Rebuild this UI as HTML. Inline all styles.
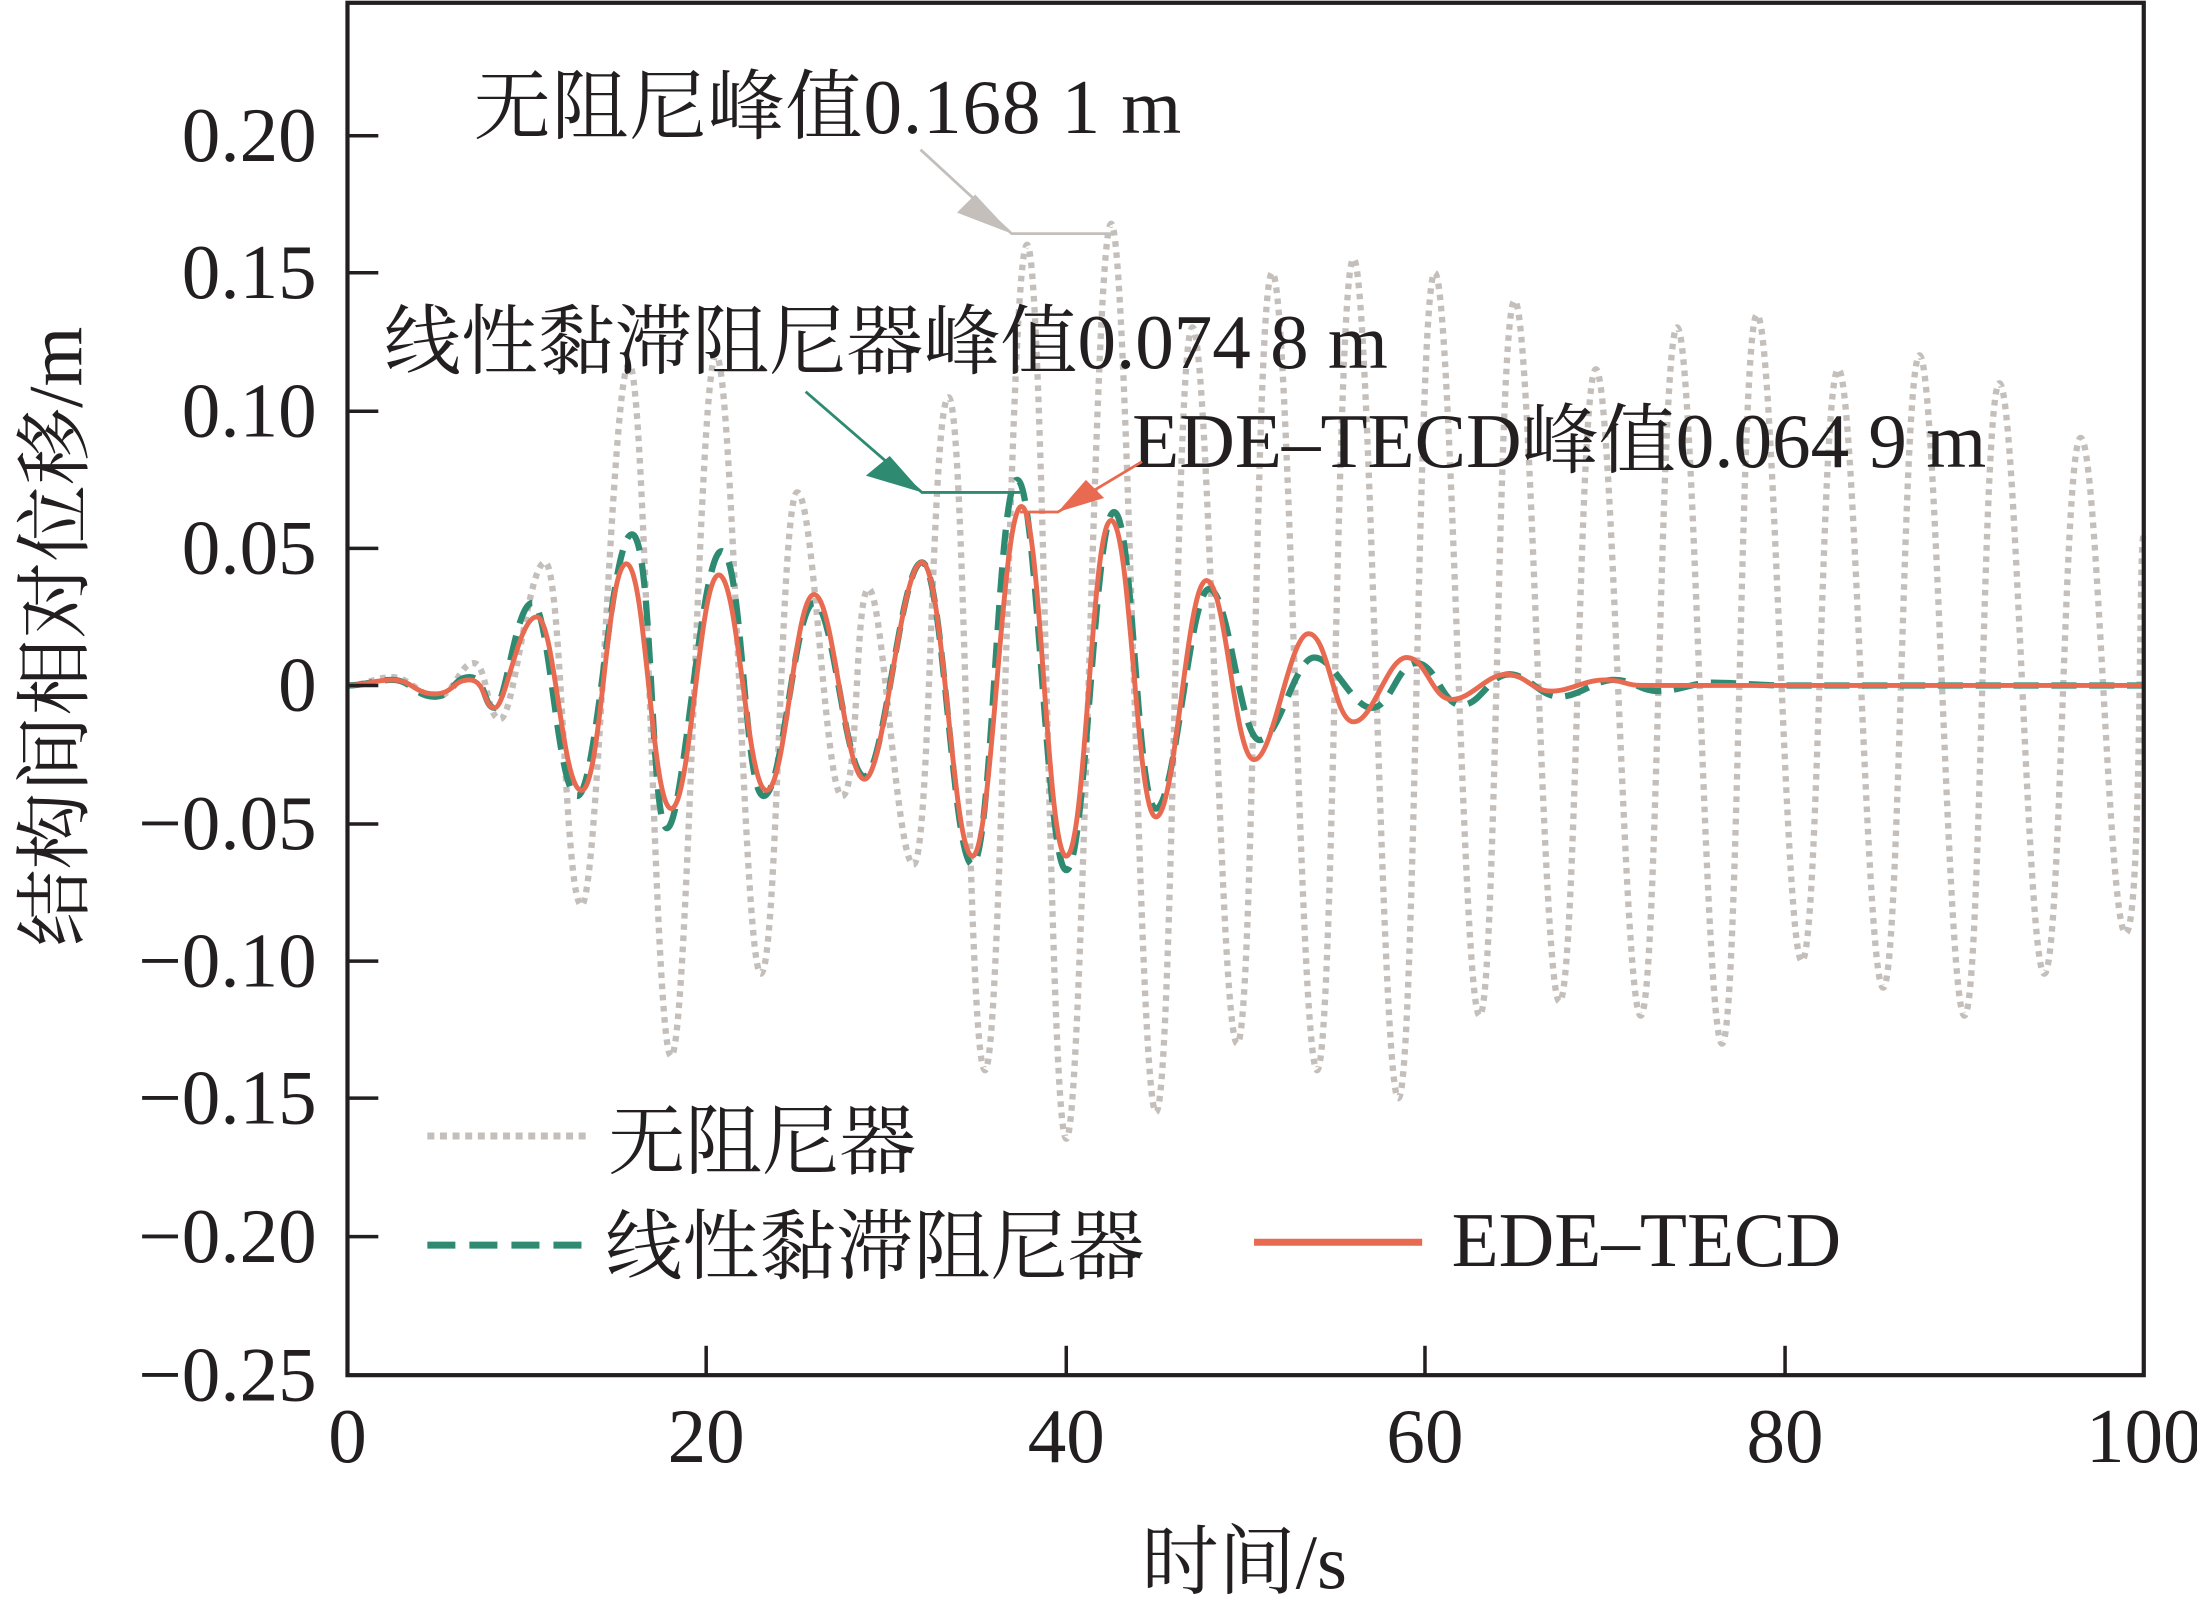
<!DOCTYPE html>
<html><head><meta charset="utf-8"><style>html,body{margin:0;padding:0;background:#fff}svg{display:block}text{font-family:"Liberation Serif","Noto Serif CJK SC",serif;fill:#231f20}</style></head>
<body>
<svg width="2197" height="1599" viewBox="0 0 1568 1143" preserveAspectRatio="none" xmlns="http://www.w3.org/2000/svg">
<rect x="0" y="0" width="1568" height="1143" fill="#fff"/>
<path fill="none" stroke="#c4bfbb" stroke-width="4.5" stroke-dasharray="4 4" d="M248,490 C260,490 268,484 280,484 S300,498 312,498 S328,474 338,474 S347,514 357,514 S377,402 389,402 S403,647 415,647 S437,260 449,260 S467,755 479,755 S499,254 511,254 S531,696 543,696 S557,352 569,352 S589,569 601,569 S610,421 620,421 S640,618 652,618 S665,284 677,284 S691,765 703,765 S721,175 733,175 S749,814 761,814 S781,160 793,160 S813,795 825,795 S839,234 851,234 S871,746 883,746 S896,195 908,195 S928,765 940,765 S954,185 966,185 S986,785 998,785 S1012,195 1024,195 S1044,726 1056,726 S1069,215 1081,215 S1101,716 1113,716 S1127,264 1139,264 S1159,726 1171,726 S1185,234 1197,234 S1217,746 1229,746 S1242,225 1254,225 S1274,687 1286,687 S1300,264 1312,264 S1332,706 1344,706 S1358,254 1370,254 S1390,726 1402,726 S1415,274 1427,274 S1447,696 1459,696 S1473,313 1485,313 S1505,667 1517,667 S1526,382 1530,382"/>
<path fill="none" stroke="#2e8b72" stroke-width="4.5" stroke-dasharray="18 9" d="M248,490 C262,490 266,486 280,486 S296,498 310,498 S323,484 335,484 S345,506 353,506 S368,431 380,431 S398,569 412,569 S436,382 451,382 S464,592 476,592 S500,394 515,394 S531,569 545,569 S567,431 581,431 S603,555 617,555 S643,402 658,402 S680,618 694,618 S712,343 726,343 S747,622 761,622 S781,366 795,366 S811,578 825,578 S849,421 863,421 S885,529 899,529 S924,470 938,470 S965,506 979,506 S997,474 1011,474 S1029,504 1043,504 S1063,482 1077,482 S1099,498 1113,498 S1138,486 1152,486 S1170,494 1184,494 S1208,488 1222,488 S1260,490 1274,490 L1530,490"/>
<path fill="none" stroke="#e86a50" stroke-width="3.5" d="M248,490 C262,490 266,486 280,486 S296,496 310,496 S323,486 335,486 S345,506 353,506 S370,441 383,441 S401,565 415,565 S433,403 447,403 S465,578 479,578 S499,411 513,411 S533,565 547,565 S567,425 581,425 S603,557 617,557 S643,402 658,402 S680,612 694,612 S715,362 729,362 S747,612 761,612 S779,372 793,372 S811,584 825,584 S847,415 861,415 S881,543 895,543 S920,453 934,453 S952,516 966,516 S990,470 1004,470 S1022,500 1036,500 S1061,482 1075,482 S1093,494 1107,494 S1131,486 1145,486 S1160,490 1171,490 L1530,490"/>
<rect x="248" y="2" width="1282" height="981" fill="none" stroke="#231f20" stroke-width="3"/>
<g stroke="#231f20" stroke-width="2.5">
<line x1="248" y1="97" x2="270" y2="97"/><line x1="248" y1="195" x2="270" y2="195"/><line x1="248" y1="294" x2="270" y2="294"/><line x1="248" y1="392" x2="270" y2="392"/><line x1="248" y1="490" x2="270" y2="490"/><line x1="248" y1="589" x2="270" y2="589"/><line x1="248" y1="687" x2="270" y2="687"/><line x1="248" y1="785" x2="270" y2="785"/><line x1="248" y1="884" x2="270" y2="884"/>
<line x1="504" y1="983" x2="504" y2="962"/><line x1="761" y1="983" x2="761" y2="962"/><line x1="1017" y1="983" x2="1017" y2="962"/><line x1="1274" y1="983" x2="1274" y2="962"/>
</g>
<g font-size="55" text-anchor="end">
<text x="226" y="115">0.20</text><text x="226" y="213">0.15</text><text x="226" y="312">0.10</text><text x="226" y="410">0.05</text><text x="226" y="508">0</text><text x="226" y="607">−0.05</text><text x="226" y="705">−0.10</text><text x="226" y="803">−0.15</text><text x="226" y="902">−0.20</text><text x="226" y="1001">−0.25</text>
</g>
<g font-size="55" text-anchor="middle">
<text x="248" y="1045">0</text><text x="504" y="1045">20</text><text x="761" y="1045">40</text><text x="1017" y="1045">60</text><text x="1274" y="1045">80</text><text x="1530" y="1045">100</text>
<text x="888" y="1135">时间/s</text>
<text transform="translate(58,455) rotate(-90)">结构间相对位移/m</text>
</g>
<g font-size="55">
<text x="338" y="95" textLength="505">无阻尼峰值0.168 1 m</text>
<text x="274" y="263">线性黏滞阻尼器峰值0.074 8 m</text>
<text x="808" y="334">EDE–TECD峰值0.064 9 m</text>
<text x="434" y="835">无阻尼器</text>
<text x="432" y="910">线性黏滞阻尼器</text>
<text x="1036" y="905">EDE–TECD</text>
</g>
<g fill="none" stroke-width="2">
<path d="M657,107 L722,167 L797,167" stroke="#c4bfbb"/>
<path d="M575,280 L658,352 L728,352" stroke="#2e8b72"/>
<path d="M815,330 L755,366 L728,366" stroke="#e86a50"/>
</g>
<polygon points="722,167 683,152 696,139" fill="#c4bfbb"/>
<polygon points="658,352 618,340 635,326" fill="#2e8b72"/>
<polygon points="755,366 775,343 788,356" fill="#e86a50"/>
<line x1="305" y1="812" x2="420" y2="812" stroke="#c4bfbb" stroke-width="5" stroke-dasharray="5 4"/>
<line x1="305" y1="890" x2="420" y2="890" stroke="#2e8b72" stroke-width="5" stroke-dasharray="20 10"/>
<line x1="895" y1="888" x2="1015" y2="888" stroke="#e86a50" stroke-width="5"/>
</svg>
</body></html>
